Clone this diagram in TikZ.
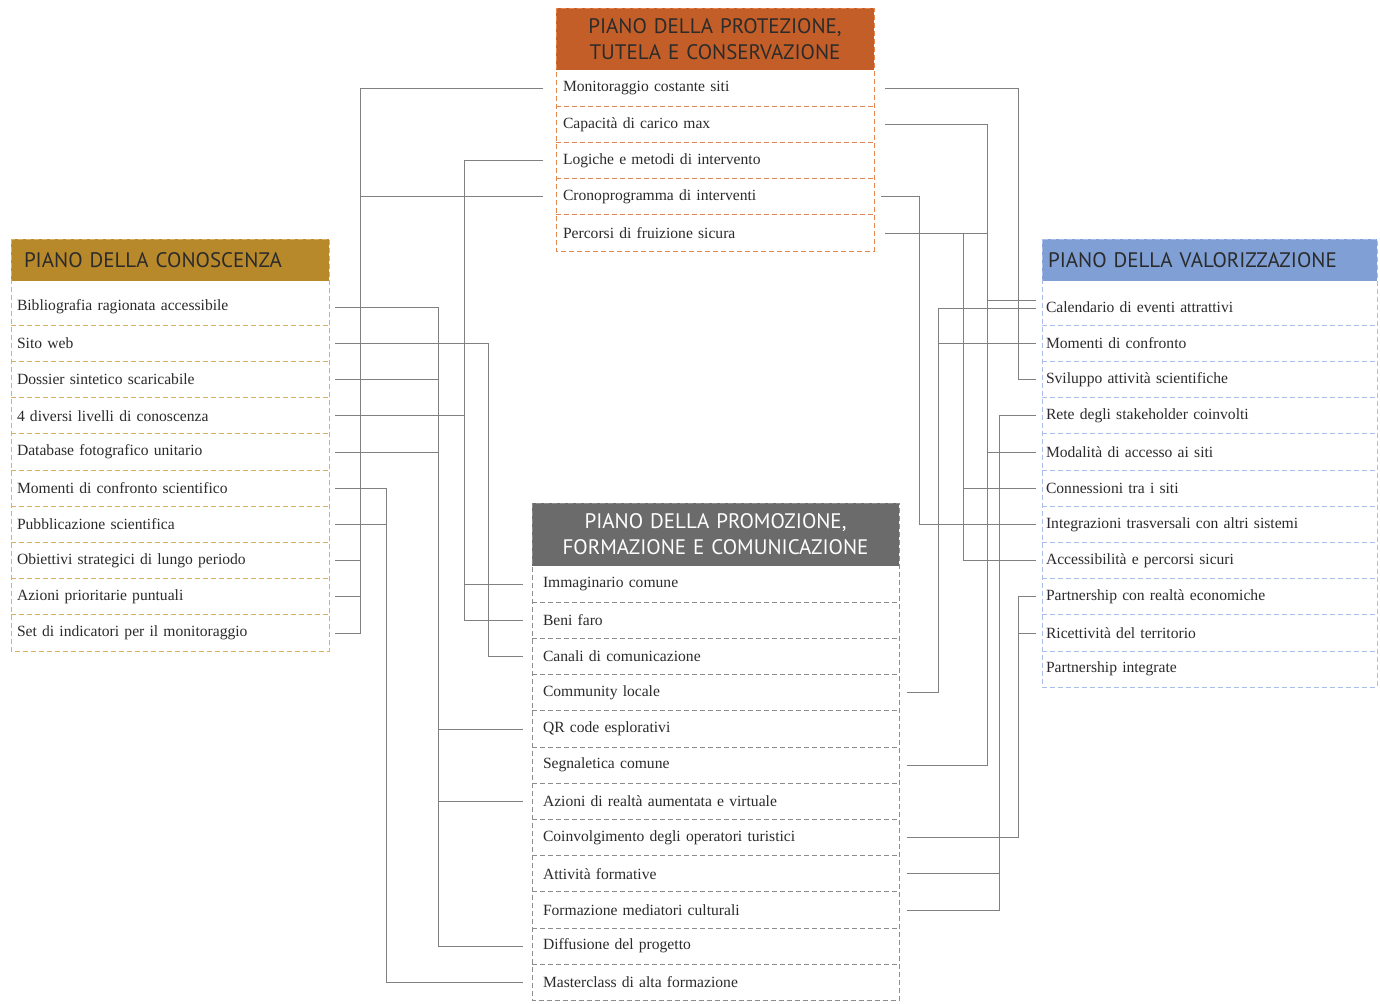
\documentclass[tikz,border=0pt]{standalone}
\usepackage{fontspec}
\setmainfont{Liberation Serif}
\newfontfamily\titolofont{PT Sans}
\usetikzlibrary{positioning}

\definecolor{arancio}{HTML}{C45E28}
\definecolor{arancioT}{HTML}{E5864F}
\definecolor{oro}{HTML}{B8892A}
\definecolor{oroT}{HTML}{D9B25E}
\definecolor{azzurro}{HTML}{7F9FD5}
\definecolor{azzurroT}{HTML}{A8BEE8}
\definecolor{grigioM}{HTML}{6B6B6B}
\definecolor{grigioT}{HTML}{8C8C8C}
\definecolor{linea}{HTML}{808080}
\definecolor{testo}{HTML}{2B2B2B}

\begin{document}
\begin{tikzpicture}[
			x=1pt, y=-1pt,
			% righe delle tabelle
			riga/.style={font=\fontsize{15.6}{17}\selectfont, text=testo, align=left, inner ysep=0pt, outer sep=0pt, minimum height=36.2pt},
			rigaK/.style={riga, text width=306pt, inner xsep=6pt},
			rigaP/.style={riga, text width=304pt, inner xsep=7pt},
			rigaV/.style={riga, text width=327pt, inner xsep=4pt},
			rigaM/.style={riga, text width=345pt, inner xsep=11pt},
			% testate colorate
			testata/.style={font=\titolofont\fontsize{21}{26}\selectfont, text=testo, anchor=north west, inner ysep=0pt, outer sep=0pt},
			headK/.style={testata, fill=oro, text width=292pt, inner xsep=13pt, align=left, minimum height=42pt},
			headP/.style={testata, fill=arancio, text width=300pt, inner xsep=9pt, align=center, minimum height=62pt},
			headV/.style={testata, fill=azzurro, text width=323pt, inner xsep=6pt, align=left, minimum height=42pt},
			headM/.style={testata, fill=grigioM, text=white, text width=351pt, inner xsep=8pt, align=center, minimum height=63pt},
			% bordi tratteggiati
			trattoK/.style={draw=oroT, line width=0.8pt, dash pattern=on 5pt off 3pt},
			trattoP/.style={draw=arancioT, line width=0.8pt, dash pattern=on 5pt off 3pt},
			trattoV/.style={draw=azzurroT, line width=0.8pt, dash pattern=on 5pt off 3pt},
			trattoM/.style={draw=grigioT, line width=0.8pt, dash pattern=on 5pt off 3pt},
			link/.style={draw=linea, line width=0.8pt},
			]

			\useasboundingbox (0,0) rectangle (1380,1003);

			% Piano della protezione
			\node[headP] (prot) at (556,8) {PIANO DELLA PROTEZIONE,\\TUTELA E CONSERVAZIONE};
			\node[rigaP, below=0pt of prot] (p1) {Monitoraggio costante siti};
			\node[rigaP, below=0pt of p1] (p2) {Capacità di carico max};
			\node[rigaP, below=0pt of p2] (p3) {Logiche e metodi di intervento};
			\node[rigaP, below=0pt of p3] (p4) {Cronoprogramma di interventi};
			\node[rigaP, below=0pt of p4] (p5) {Percorsi di fruizione sicura};
			\draw[trattoP] (prot.north west) rectangle (p5.south east);
			\foreach \r in {p1,p2,p3,p4}
				\draw[trattoP] (\r.south west) -- (\r.south east);

			% Piano della conoscenza
			\node[headK] (cono) at (11,239) {PIANO DELLA CONOSCENZA};
			\node[rigaK, below=8pt of cono] (k1) {Bibliografia ragionata accessibile};
			\node[rigaK, below=0pt of k1] (k2) {Sito web};
			\node[rigaK, below=0pt of k2] (k3) {Dossier sintetico scaricabile};
			\node[rigaK, below=0pt of k3] (k4) {4 diversi livelli di conoscenza};
			\node[rigaK, below=0pt of k4] (k5) {Database fotografico unitario};
			\node[rigaK, below=0pt of k5] (k6) {Momenti di confronto scientifico};
			\node[rigaK, below=0pt of k6] (k7) {Pubblicazione scientifica};
			\node[rigaK, below=0pt of k7] (k8) {Obiettivi strategici di lungo periodo};
			\node[rigaK, below=0pt of k8] (k9) {Azioni prioritarie puntuali};
			\node[rigaK, below=0pt of k9] (k10) {Set di indicatori per il monitoraggio};
			\draw[trattoK] (cono.north west) rectangle (k10.south east);
			\foreach \r in {k1,k2,k3,k4,k5,k6,k7,k8,k9}
				\draw[trattoK] (\r.south west) -- (\r.south east);

			% Piano della valorizzazione
			\node[headV] (valo) at (1042,239) {PIANO DELLA VALORIZZAZIONE};
			\node[rigaV, below=8pt of valo] (v1) {Calendario di eventi attrattivi};
			\node[rigaV, below=0pt of v1] (v2) {Momenti di confronto};
			\node[rigaV, below=0pt of v2] (v3) {Sviluppo attività scientifiche};
			\node[rigaV, below=0pt of v3] (v4) {Rete degli stakeholder coinvolti};
			\node[rigaV, below=0pt of v4] (v5) {Modalità di accesso ai siti};
			\node[rigaV, below=0pt of v5] (v6) {Connessioni tra i siti};
			\node[rigaV, below=0pt of v6] (v7) {Integrazioni trasversali con altri sistemi};
			\node[rigaV, below=0pt of v7] (v8) {Accessibilità e percorsi sicuri};
			\node[rigaV, below=0pt of v8] (v9) {Partnership con realtà economiche};
			\node[rigaV, below=0pt of v9] (v10) {Ricettività del territorio};
			\node[rigaV, below=0pt of v10] (v11) {Partnership integrate};
			\draw[trattoV] (valo.north west) rectangle (v11.south east);
			\foreach \r in {v1,v2,v3,v4,v5,v6,v7,v8,v9,v10}
				\draw[trattoV] (\r.south west) -- (\r.south east);

			% Piano della promozione
			\node[headM] (prom) at (532,503) {PIANO DELLA PROMOZIONE,\\FORMAZIONE E COMUNICAZIONE};
			\node[rigaM, below=0pt of prom] (m1) {Immaginario comune};
			\node[rigaM, below=0pt of m1] (m2) {Beni faro};
			\node[rigaM, below=0pt of m2] (m3) {Canali di comunicazione};
			\node[rigaM, below=0pt of m3] (m4) {Community locale};
			\node[rigaM, below=0pt of m4] (m5) {QR code esplorativi};
			\node[rigaM, below=0pt of m5] (m6) {Segnaletica comune};
			\node[rigaM, below=0pt of m6] (m7) {Azioni di realtà aumentata e virtuale};
			\node[rigaM, below=0pt of m7] (m8) {Coinvolgimento degli operatori turistici};
			\node[rigaM, below=0pt of m8] (m9) {Attività formative};
			\node[rigaM, below=0pt of m9] (m10) {Formazione mediatori culturali};
			\node[rigaM, below=0pt of m10] (m11) {Diffusione del progetto};
			\node[rigaM, below=0pt of m11] (m12) {Masterclass di alta formazione};
			\draw[trattoM] (prom.north west) rectangle (m12.south east);
			\foreach \r in {m1,m2,m3,m4,m5,m6,m7,m8,m9,m10,m11}
				\draw[trattoM] (\r.south west) -- (\r.south east);

			% collegamenti a sinistra
			\coordinate (busA) at (360,0);
			\coordinate (busB) at (386,0);
			\coordinate (busC) at (438,0);
			\coordinate (busD) at (464,0);
			\coordinate (busE) at (488,0);

			\draw[link] ([xshift=-13pt]p1.west) -| (busA |- k10.east) -- ([xshift=6pt]k10.east);
			\draw[link] ([xshift=-13pt]p4.west) -- (busA |- p4.west);
			\draw[link] ([xshift=6pt]k8.east) -- (busA |- k8.east);
			\draw[link] ([xshift=6pt]k9.east) -- (busA |- k9.east);

			\draw[link] ([xshift=6pt]k6.east) -| (busB |- m12.west) -- ([xshift=-9pt]m12.west);
			\draw[link] ([xshift=6pt]k7.east) -- (busB |- k7.east);

			\draw[link] ([xshift=6pt]k1.east) -| (busC |- m11.west) -- ([xshift=-9pt]m11.west);
			\draw[link] ([xshift=6pt]k3.east) -- (busC |- k3.east);
			\draw[link] ([xshift=6pt]k5.east) -- (busC |- k5.east);
			\draw[link] (busC |- m5.west) -- ([xshift=-9pt]m5.west);
			\draw[link] (busC |- m7.west) -- ([xshift=-9pt]m7.west);

			\draw[link] ([xshift=-13pt]p3.west) -| (busD |- m2.west) -- ([xshift=-9pt]m2.west);
			\draw[link] ([xshift=6pt]k4.east) -- (busD |- k4.east);
			\draw[link] (busD |- m1.west) -- ([xshift=-9pt]m1.west);

			\draw[link] ([xshift=6pt]k2.east) -| (busE |- m3.west) -- ([xshift=-9pt]m3.west);

			% collegamenti a destra
			\coordinate (busF) at (1018,0);
			\coordinate (busG) at (987,0);
			\coordinate (busH) at (919,0);
			\coordinate (busI) at (963,0);
			\coordinate (busJ) at (938,0);
			\coordinate (busK) at (999,0);
			\coordinate (busL) at (1018,0);
			\coordinate (v1a) at ([yshift=7pt]v1.west);
			\coordinate (v1b) at ([yshift=-1pt]v1.west);

			\draw[link] ([xshift=11pt]p1.east) -| (busF |- v3.west) -- ([xshift=-6pt]v3.west);

			\draw[link] ([xshift=11pt]p2.east) -| (busG |- m6.east) -- ([xshift=8pt]m6.east);
			\draw[link] ([xshift=11pt]p5.east) -- (busG |- p5.east);
			\draw[link] (busG |- v1a) -- ([xshift=-6pt]v1a);
			\draw[link] (busG |- v5.west) -- ([xshift=-6pt]v5.west);

			\draw[link] ([xshift=7pt]p4.east) -| (busH |- v7.west) -- ([xshift=-6pt]v7.west);

			\draw[link] (busI |- p5.east) -- (busI |- v8.west) -- ([xshift=-6pt]v8.west);
			\draw[link] (busI |- v6.west) -- ([xshift=-6pt]v6.west);

			\draw[link] ([xshift=-6pt]v1b) -| (busJ |- m4.east) -- ([xshift=8pt]m4.east);
			\draw[link] (busJ |- v2.west) -- ([xshift=-6pt]v2.west);

			\draw[link] ([xshift=-6pt]v4.west) -| (busK |- m10.east) -- ([xshift=8pt]m10.east);
			\draw[link] (busK |- m9.east) -- ([xshift=8pt]m9.east);

			\draw[link] ([xshift=-6pt]v9.west) -| (busL |- m8.east) -- ([xshift=8pt]m8.east);
			\draw[link] (busL |- v10.west) -- ([xshift=-6pt]v10.west);

		\end{tikzpicture}
\end{document}
